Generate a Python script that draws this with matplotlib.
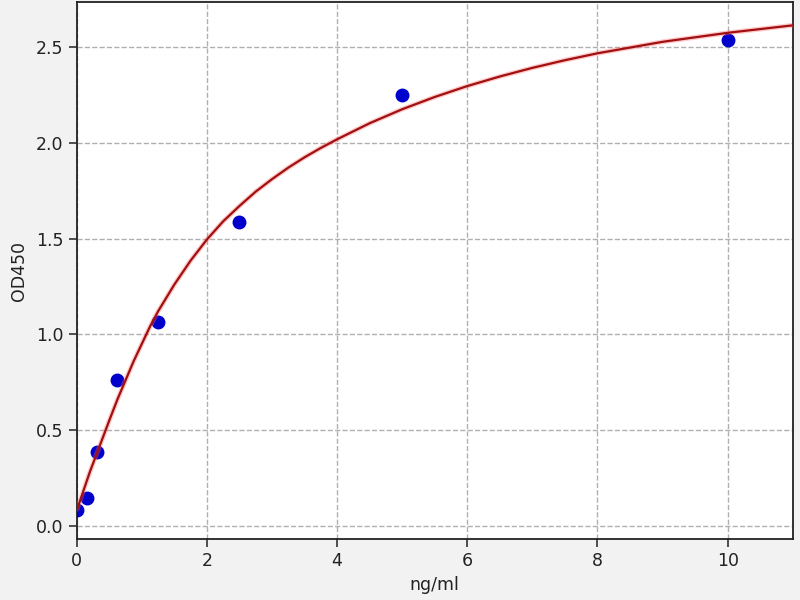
import matplotlib
matplotlib.use("Agg")
import matplotlib.pyplot as plt

# Standard points
conc = [0, 0.156, 0.3125, 0.625, 1.25, 2.5, 5, 10]
od = [0.084, 0.145, 0.385, 0.762, 1.062, 1.584, 2.247, 2.538]

# Fitted curve
curve_x = [0, 0.1, 0.2, 0.3, 0.4, 0.5, 0.625, 0.75, 0.875, 1.0, 1.125, 1.25, 1.5, 1.75, 2.0,
           2.25, 2.5, 2.75, 3.0, 3.25, 3.5, 3.75, 4.0, 4.5, 5.0, 5.5, 6.0, 6.5, 7.0, 7.5, 8.0,
           9.0, 10.0, 11.0]
curve_y = [0.08, 0.18, 0.28, 0.37, 0.46, 0.55, 0.66, 0.76, 0.86, 0.95, 1.04, 1.12, 1.26, 1.385,
           1.495, 1.59, 1.67, 1.745, 1.81, 1.87, 1.924, 1.973, 2.018, 2.102, 2.175, 2.239, 2.296,
           2.346, 2.391, 2.431, 2.467, 2.527, 2.574, 2.613]

xticks = [0, 2, 4, 6, 8, 10]
yticks = [0.0, 0.5, 1.0, 1.5, 2.0, 2.5]

fig = plt.figure(figsize=(8, 6), dpi=100, facecolor="#f2f2f2")
ax = fig.add_axes([0.0959, 0.1012, 0.895, 0.8955])
ax.set_facecolor("white")

ax.plot(conc, od, "o", color="#0000cc", markersize=9, zorder=3)
ax.plot(curve_x, curve_y, color="#ff6666", linewidth=3.5, alpha=0.35, zorder=4,
        solid_capstyle="butt", solid_joinstyle="round")
ax.plot(curve_x, curve_y, color="#a01010", linewidth=1.6, zorder=5,
        solid_joinstyle="round")

ax.set_xlim(0, 11)
ax.set_ylim(-0.07, 2.735)
ax.set_xticks(xticks)
ax.set_yticks(yticks)
ax.set_xticklabels([str(t) for t in xticks])
ax.set_yticklabels([f"{t:.1f}" for t in yticks])
ax.tick_params(labelsize=12.5, length=6, width=1.2, color="#333333", labelcolor="#222222")
ax.grid(True, linestyle="--", color="#b0b0b0", linewidth=1.0)
ax.set_axisbelow(True)
for s in ax.spines.values():
    s.set_linewidth(1.3)
    s.set_color("#222222")

ax.set_xlabel("ng/ml", fontsize=12.5, color="#222222")
ax.set_ylabel("OD450", fontsize=12.5, color="#222222", labelpad=6)

fig.savefig("out.png", dpi=100, facecolor=fig.get_facecolor())
